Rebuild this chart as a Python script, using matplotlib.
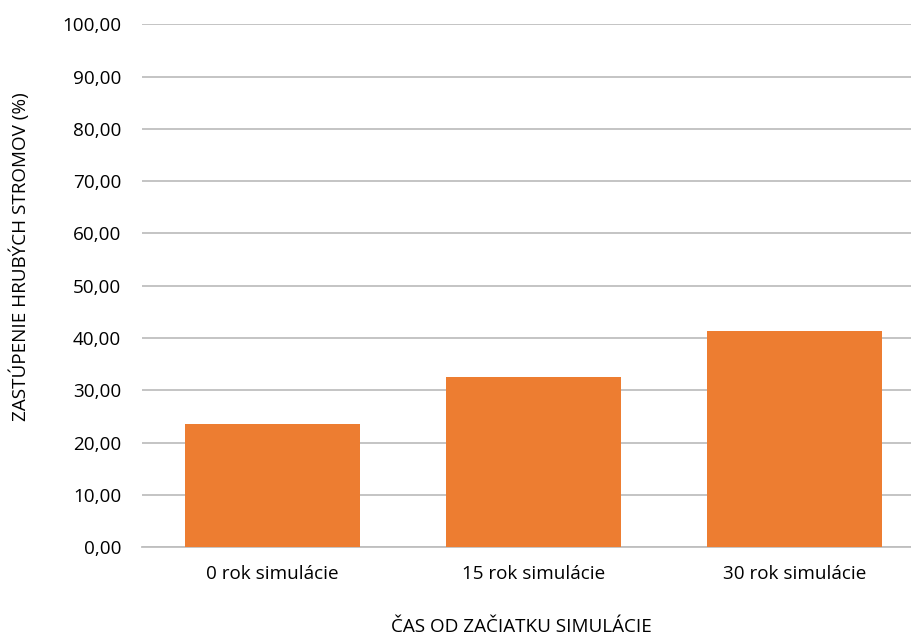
import matplotlib
matplotlib.use("Agg")
import matplotlib.pyplot as plt

categories = ["0 rok simulácie", "15 rok simulácie", "30 rok simulácie"]
values = [23.5, 32.5, 41.3]
y_ticks = [0, 10, 20, 30, 40, 50, 60, 70, 80, 90, 100]
y_tick_labels = [f"{v:.2f}".replace(".", ",") for v in y_ticks]

plt.rcParams["font.family"] = ["Open Sans", "DejaVu Sans"]
FS = 13.6

fig = plt.figure(figsize=(9.12, 6.37), dpi=100)
ax = fig.add_axes([142 / 912, 89.7 / 637, 783 / 912, 523 / 637])

x = range(len(categories))
ax.bar(x, values, width=0.667, color="#ED7D31", zorder=3)

ax.set_xlim(-0.5, len(categories) - 0.5)
ax.set_ylim(0, 100)
ax.set_yticks(y_ticks)
ax.set_yticklabels(y_tick_labels)
ax.set_xticks(list(x))
ax.set_xticklabels(categories)

ax.grid(axis="y", color="#BFBFBF", linewidth=1.3, zorder=0)
ax.grid(axis="x", visible=False)
for side in ("top", "right", "left"):
    ax.spines[side].set_visible(False)
ax.spines["bottom"].set_color("#BFBFBF")
ax.spines["bottom"].set_linewidth(1.3)

ax.tick_params(axis="both", length=0, labelsize=FS, colors="#000000")
ax.tick_params(axis="y", pad=15)
ax.tick_params(axis="x", pad=13)

fig.text(20 / 912, 1 - 257 / 637, "ZASTÚPENIE HRUBÝCH STROMOV (%)",
         rotation=90, ha="center", va="center", fontsize=FS)
fig.text(521 / 912, 1 - 627 / 637, "ČAS OD ZAČIATKU SIMULÁCIE",
         ha="center", va="center", fontsize=FS)

fig.savefig("out.png", dpi=100)
